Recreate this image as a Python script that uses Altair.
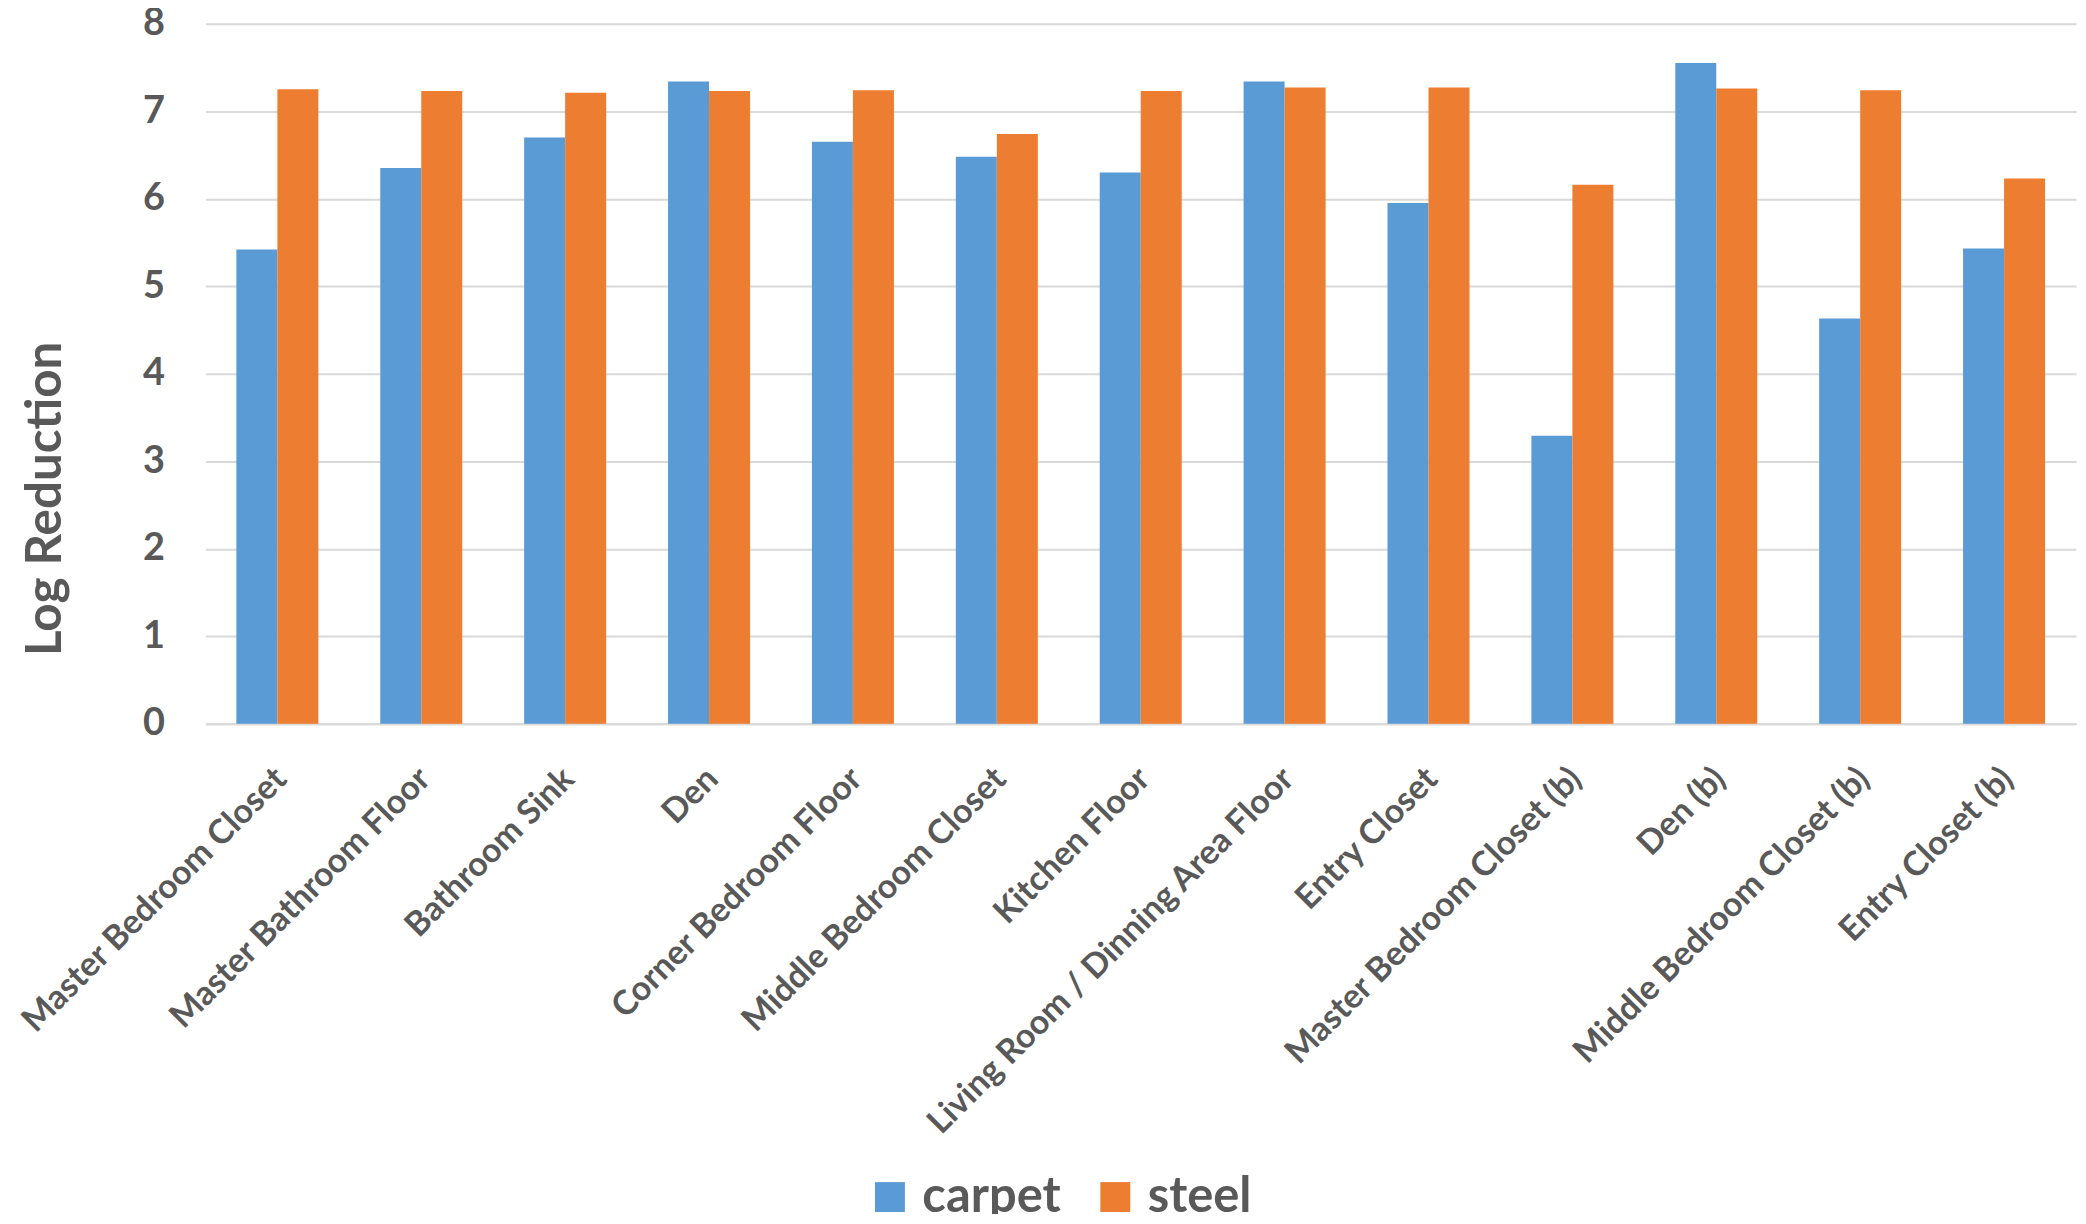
import altair as alt
import pandas as pd

categories = [
    "Master Bedroom Closet", "Master Bathroom Floor", "Bathroom Sink", "Den",
    "Corner Bedroom Floor", "Middle Bedroom Closet", "Kitchen Floor",
    "Living Room / Dinning Area Floor", "Entry Closet", "Master Bedroom Closet (b)",
    "Den (b)", "Middle Bedroom Closet (b)", "Entry Closet (b)",
]
carpet = [5.42, 6.35, 6.70, 7.34, 6.65, 6.48, 6.30, 7.34, 5.95, 3.29, 7.55, 4.63, 5.43]
steel = [7.25, 7.23, 7.21, 7.23, 7.24, 6.74, 7.23, 7.27, 7.27, 6.16, 7.26, 7.24, 6.23]
series = ["carpet", "steel"]
colors = ["#5B9BD5", "#ED7D31"]
y_ticks = [0, 1, 2, 3, 4, 5, 6, 7, 8]

rows = []
for i, c in enumerate(categories):
    rows.append({"location": c, "series": "carpet", "value": carpet[i]})
    rows.append({"location": c, "series": "steel", "value": steel[i]})
df = pd.DataFrame(rows)

FONT = "Lato"
GRAY = "#595959"

chart = alt.Chart(df).mark_bar().encode(
    x=alt.X(
        "location:N",
        sort=categories,
        scale=alt.Scale(paddingInner=0.43, paddingOuter=0.215),
        axis=alt.Axis(
            title=None,
            labelAngle=-45,
            labelAlign="right",
            labelBaseline="middle",
            labelFont=FONT,
            labelFontWeight="bold",
            labelFontSize=34,
            labelColor=GRAY,
            labelPadding=50,
            labelOffset=4,
            ticks=False,
            tickSize=0,
            domainColor="#d9d9d9",
            domainWidth=2,
            grid=False,
            labelLimit=1000,
        ),
    ),
    xOffset=alt.XOffset("series:N", sort=series, scale=alt.Scale(paddingInner=0, paddingOuter=0)),
    y=alt.Y(
        "value:Q",
        scale=alt.Scale(domain=[0, 8], nice=False),
        axis=alt.Axis(
            title="Log Reduction",
            values=y_ticks,
            titleFont=FONT,
            titleFontWeight="bold",
            titleFontSize=49.5,
            titleColor=GRAY,
            titleAngle=270,
            titleAlign="center",
            titleBaseline="middle",
            titleX=-160,
            titleY=476,
            labelFont=FONT,
            labelFontWeight="bold",
            labelFontSize=38,
            labelColor=GRAY,
            labelPadding=41,
            ticks=False,
            tickSize=0,
            domain=False,
            gridColor="#d9d9d9",
            gridWidth=2,
        ),
    ),
    color=alt.Color(
        "series:N",
        sort=series,
        scale=alt.Scale(domain=series, range=colors),
        legend=alt.Legend(
            title=None,
            orient="none",
            direction="horizontal",
            legendX=662,
            legendY=1152,
            symbolType="square",
            symbolSize=900,
            symbolStrokeWidth=0,
            labelFont=FONT,
            labelFontWeight="bold",
            labelFontSize=49,
            labelColor=GRAY,
            labelOffset=8,
            columnPadding=30,
            labelLimit=400,
        ),
    ),
).properties(
    width=1876,
    height=702,
    autosize=alt.AutoSizeParams(type="none"),
    padding={"left": 198, "top": 14, "right": 2, "bottom": 490},
).configure_view(stroke=None)

chart.save("out.html", embed_options={"renderer": "svg", "actions": False})
